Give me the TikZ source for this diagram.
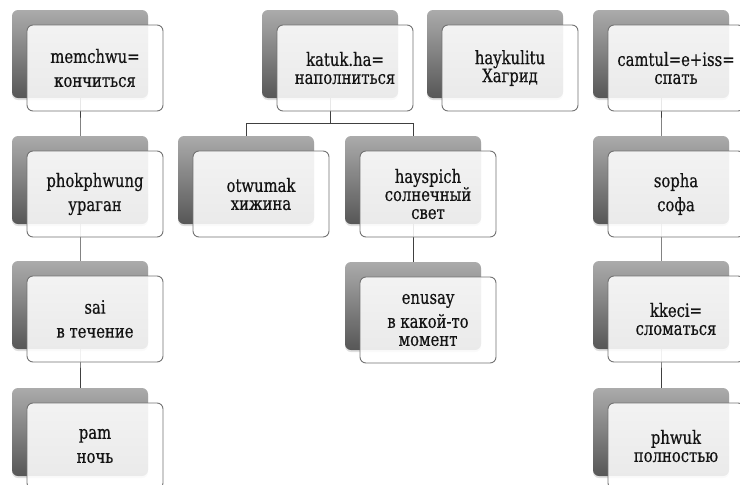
\documentclass[tikz,border=0pt]{standalone}
\usepackage{fontspec}
\newfontfamily\boxfont{DejaVu Serif}[FakeStretch=0.8, FakeBold=0.5]
\usetikzlibrary{shadows, backgrounds}
\tikzset{
  backbox/.style={rectangle, rounded corners=6pt, minimum width=136pt, minimum height=88pt,
    top color=black!33, bottom color=black!66,
    drop shadow={shadow xshift=0pt, shadow yshift=-2pt, opacity=0.25}},
  frontbox/.style={rectangle, rounded corners=6pt, minimum width=136pt, minimum height=86pt,
    draw=black!55, line width=0.9pt, fill=white, fill opacity=0.88, text opacity=1,
    align=center, text=black!92, font=\boxfont\fontsize{18.5}{18}\selectfont},
  link/.style={draw=black!75, line width=0.8pt},
}

\begin{document}
\begin{tikzpicture}[x=1pt, y=-1pt]
\useasboundingbox (0,0) rectangle (740,485);

% grey plates behind the cards
\node[backbox] (b1) at (80,54) {};
\node[backbox] (b2) at (80,180) {};
\node[backbox] (b3) at (80,305) {};
\node[backbox] (b4) at (80,432) {};
\node[backbox] (kb) at (330,54) {};
\node[backbox] (ob) at (246,180) {};
\node[backbox] (hb) at (413,180) {};
\node[backbox] (eb) at (413,306) {};
\node[backbox] (xb) at (495,54) {};
\node[backbox] (c1) at (661,54) {};
\node[backbox] (c2) at (661,180) {};
\node[backbox] (c3) at (661,305) {};
\node[backbox] (c4) at (661,432) {};

% white cards
\node[frontbox] (memchwu) at (95,68) {memchwu=\\[6pt]кончиться};
\node[frontbox] (phok) at (95,194) {phokphwung\\[6pt]ураган};
\node[frontbox] (sai) at (95,319) {sai\\[6pt]в течение};
\node[frontbox] (pam) at (95,446) {pam\\[6pt]ночь};
\node[frontbox] (katuk) at (345,68) {katuk.ha=\\наполниться};
\node[frontbox] (otwumak) at (261,194) {otwumak\\хижина};
\node[frontbox] (hayspich) at (428,194) {hayspich\\солнечный\\свет};
\node[frontbox] (enusay) at (428,320) {enusay\\[6pt]в какой-то\\момент};
\node[frontbox] (hayk) at (510,68) {haykulitu\\Хагрид};
\node[frontbox] (camtul) at (676,68) {camtul=e+iss=\\спать};
\node[frontbox] (sopha) at (676,194) {sopha\\[6pt]софа};
\node[frontbox] (kkeci) at (676,319) {kkeci=\\сломаться};
\node[frontbox] (phwuk) at (676,446) {phwuk\\полностью};

\begin{scope}[on background layer]
\draw[link] (b1.center) -- (b2.center) -- (b3.center) -- (b4.center);
\coordinate (kbus) at (330,123);
\draw[link] (kb.center) -- (kbus) -| (ob.center);
\draw[link] (kbus) -| (hb.center);
\draw[link] (hb.center) -- (eb.center);
\draw[link] (c1.center) -- (c2.center) -- (c3.center) -- (c4.center);
\end{scope}
\end{tikzpicture}
\end{document}
